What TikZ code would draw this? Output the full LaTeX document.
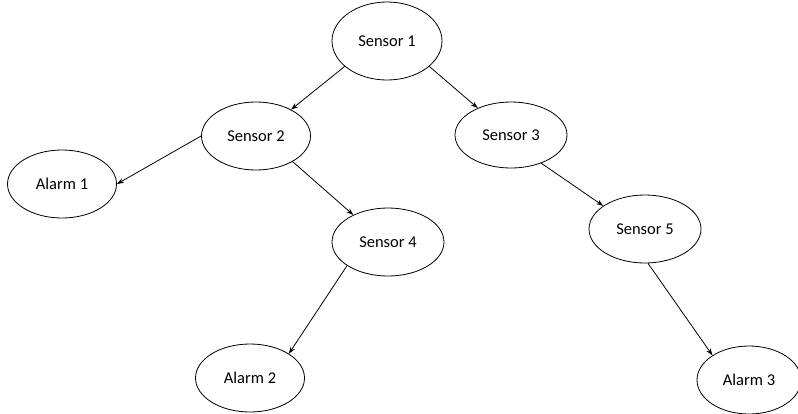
\documentclass[tikz,border=0pt]{standalone}
\usepackage{fontspec}
\setmainfont{Carlito}
\usetikzlibrary{shapes.geometric,arrows.meta}
\begin{document}
\begin{tikzpicture}[x=1pt,y=-1pt,
  ell/.style={draw,ellipse,line width=0.8pt,inner sep=0pt,minimum width=109pt,minimum height=68pt,font=\fontsize{16.5}{18}\selectfont},
  conn/.style={draw,line width=0.8pt,-{Stealth[length=7pt,width=5pt]}}]
\useasboundingbox (0,0) rectangle (798,413);
\node[ell,minimum width=110pt,minimum height=78pt] (s1) at (387,41) {Sensor 1};
\node[ell] (s2) at (256,136) {Sensor 2};
\node[ell,minimum width=112pt,minimum height=66pt] (s3) at (511,135) {Sensor 3};
\node[ell] (a1) at (62,184) {Alarm 1};
\node[ell,minimum width=112pt] (s4) at (388,242) {Sensor 4};
\node[ell,minimum width=112pt] (s5) at (645,229) {Sensor 5};
\node[ell] (a2) at (250,378) {Alarm 2};
\node[ell,minimum width=104pt] (a3) at (749,380) {Alarm 3};
\draw[conn] (s1.-149) -- (s2.37);
\draw[conn] (s1.-31) -- (s3.141);
\draw[conn] (s2.west) -- (a1.east);
\draw[conn] (s2.-35) -- (s4.142);
\draw[conn] (s3.-43) -- (s5.151);
\draw[conn] (s4.-150) -- (a2.32);
\draw[conn] (s5.-85) -- (a3.146);
\end{tikzpicture}
\end{document}
